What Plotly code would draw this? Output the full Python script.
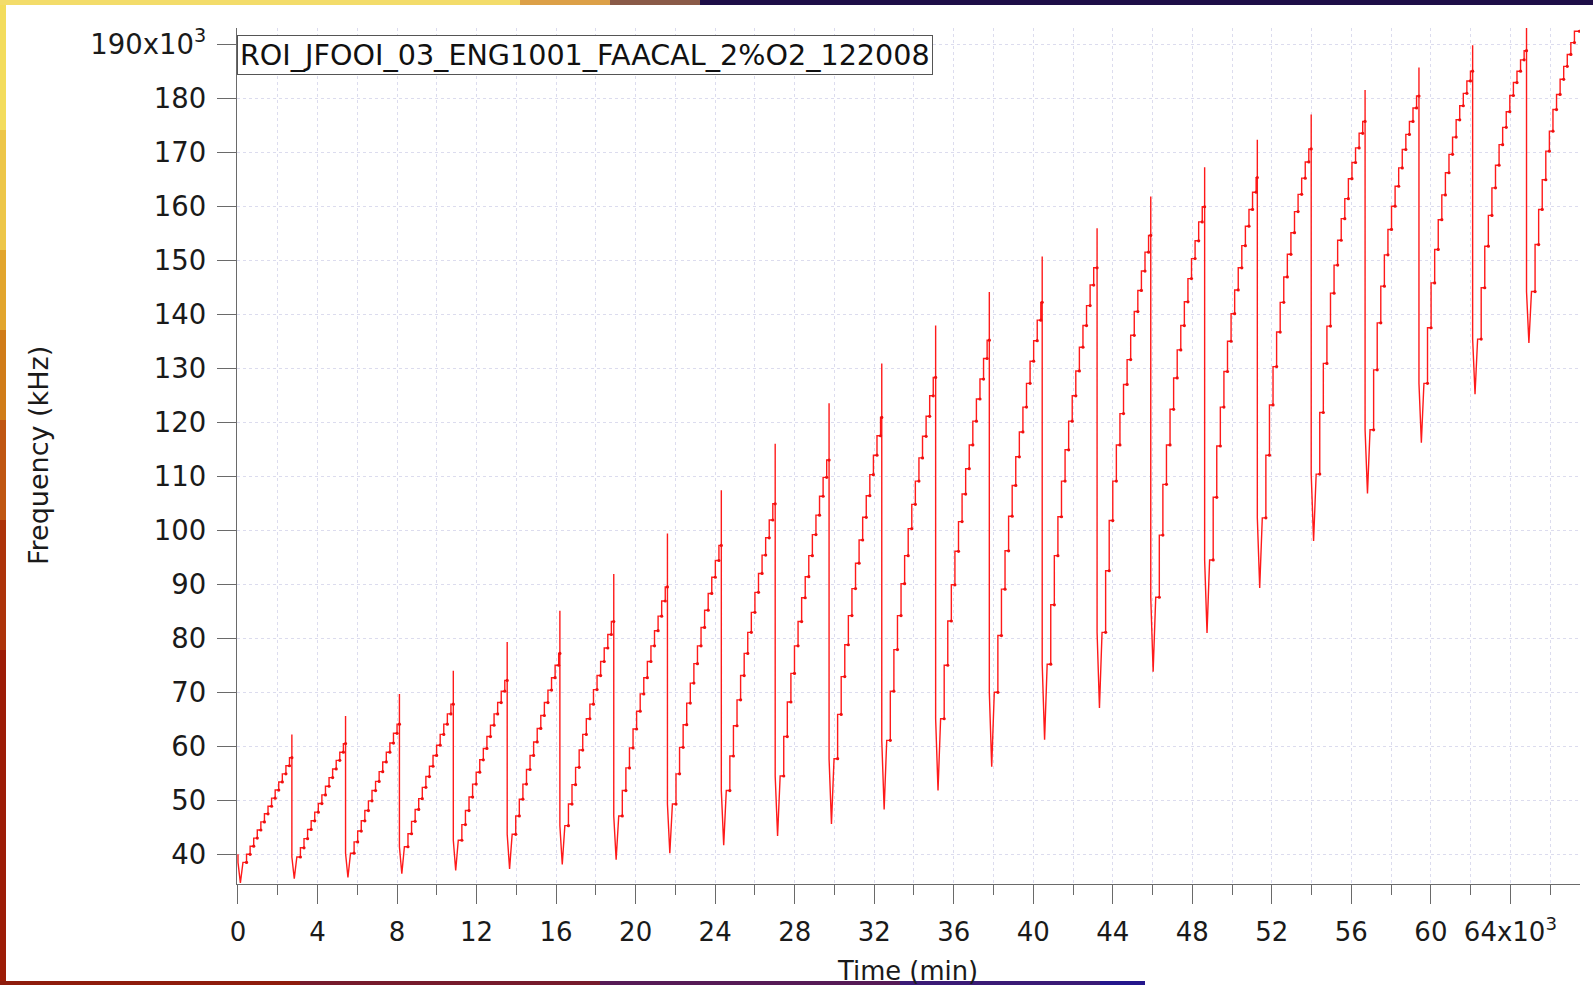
import plotly.graph_objects as go

# ---------------- data ----------------
# time unit: x10^3 (s); frequency: kHz
start_level = 40.0
end_time = 67.47

drop_times = [2.71, 5.41, 8.12, 10.83, 13.54, 16.19, 18.90, 21.60, 24.31, 27.02,
              29.73, 32.38, 35.09, 37.79, 40.45, 43.21, 45.91, 48.62, 51.27, 53.98,
              56.69, 59.40, 62.10, 64.81]
spike_peaks = [62.2, 65.6, 69.7, 74.0, 79.3, 85.1, 91.9, 99.4, 107.4, 116.0,
               123.5, 130.9, 137.9, 144.1, 150.7, 155.9, 161.8, 167.2, 172.3, 177.0,
               181.5, 185.7, 189.8, 193.4]
cycle_minima = [34.7, 35.5, 35.7, 36.4, 37.0, 37.3, 38.1, 39.0, 40.2, 41.7, 43.4, 45.6,
                48.3, 51.8, 56.2, 61.2, 67.1, 73.8, 81.0, 89.3, 98.0, 106.8, 116.2,
                125.2, 134.7]
# offsets (x10^3 s after a reset) of the minimum and of each plateau start
min_offset = 0.12
step_offsets = [0.25, 0.43, 0.61, 0.79, 0.97, 1.15, 1.33, 1.51, 1.69, 1.87, 2.05,
                2.23, 2.41, 2.59]

cycle_levels = [
    [38.5, 40.0, 41.5, 43.0, 44.5, 46.0, 47.5, 48.9, 50.4, 51.9, 53.4, 54.9, 56.4, 57.9],
    [39.5, 41.2, 42.9, 44.6, 46.2, 47.8, 49.4, 51.0, 52.6, 54.2, 55.8, 57.4, 58.9, 60.5],
    [40.2, 42.3, 44.3, 46.2, 48.1, 49.9, 51.8, 53.5, 55.3, 57.1, 58.9, 60.6, 62.4, 64.1],
    [41.4, 43.8, 46.1, 48.3, 50.3, 52.4, 54.4, 56.3, 58.3, 60.2, 62.2, 64.1, 66.0, 67.8],
    [42.6, 45.5, 48.1, 50.6, 53.0, 55.2, 57.5, 59.6, 61.8, 63.9, 66.0, 68.1, 70.2, 72.2],
    [43.7, 47.1, 50.2, 53.0, 55.7, 58.3, 60.8, 63.3, 65.7, 68.1, 70.4, 72.7, 75.0, 77.2],
    [45.3, 49.3, 52.9, 56.1, 59.3, 62.2, 65.1, 67.8, 70.5, 73.1, 75.7, 78.2, 80.7, 83.1],
    [47.1, 51.8, 56.0, 59.7, 63.2, 66.5, 69.7, 72.7, 75.7, 78.6, 81.4, 84.1, 86.9, 89.5],
    [49.3, 54.9, 59.8, 64.0, 68.0, 71.7, 75.3, 78.6, 82.0, 85.2, 88.3, 91.3, 94.4, 97.2],
    [51.8, 58.2, 63.8, 68.6, 73.1, 77.2, 81.1, 84.8, 88.5, 92.0, 95.4, 98.6, 101.9, 104.9],
    [54.5, 61.8, 68.2, 73.5, 78.6, 83.1, 87.5, 91.4, 95.3, 99.2, 102.8, 106.3, 109.8, 113.0],
    [57.7, 65.9, 72.9, 78.8, 84.2, 89.2, 93.9, 98.2, 102.4, 106.4, 110.3, 113.9, 117.5, 120.9],
    [61.1, 70.2, 77.9, 84.2, 90.1, 95.3, 100.3, 104.8, 109.1, 113.4, 117.4, 121.1, 124.9, 128.3],
    [65.1, 75.0, 83.2, 89.9, 96.1, 101.6, 106.7, 111.4, 115.8, 120.2, 124.3, 128.0, 131.8, 135.2],
    [70.0, 80.5, 89.1, 96.2, 102.6, 108.3, 113.6, 118.2, 122.8, 127.2, 131.3, 135.1, 138.9, 142.2],
    [75.2, 86.2, 95.3, 102.5, 109.1, 114.9, 120.2, 124.9, 129.5, 133.9, 137.9, 141.6, 145.4, 148.6],
    [81.1, 92.5, 101.8, 109.1, 115.8, 121.6, 127.0, 131.6, 136.1, 140.5, 144.4, 148.0, 151.5, 154.6],
    [87.6, 99.1, 108.5, 115.8, 122.4, 128.2, 133.4, 137.9, 142.3, 146.6, 150.3, 153.6, 157.1, 159.9],
    [94.5, 106.1, 115.6, 122.8, 129.4, 135.0, 140.1, 144.5, 148.6, 152.7, 156.3, 159.4, 162.6, 165.3],
    [102.3, 113.9, 123.2, 130.3, 136.7, 142.2, 146.9, 151.1, 155.1, 159.0, 162.2, 165.2, 168.2, 170.6],
    [110.4, 121.8, 130.9, 137.8, 143.9, 149.1, 153.7, 157.7, 161.4, 165.1, 168.1, 170.8, 173.5, 175.7],
    [118.6, 129.7, 138.4, 145.2, 151.0, 155.7, 160.0, 163.7, 167.1, 170.5, 173.3, 175.7, 178.2, 180.4],
    [127.2, 137.5, 145.8, 152.0, 157.5, 162.1, 166.2, 169.6, 172.8, 176.0, 178.6, 180.9, 183.2, 185.0],
    [135.4, 144.9, 152.6, 158.3, 163.4, 167.6, 171.4, 174.6, 177.5, 180.5, 182.9, 185.0, 187.1, 188.8],
    [144.2, 152.9, 159.4, 164.9, 170.2, 173.9, 177.9, 180.7, 183.5, 185.9, 188.1, 190.3, 192.4],
]

x_tick_vals = [0, 4, 8, 12, 16, 20, 24, 28, 32, 36, 40, 44, 48, 52, 56, 60, 64]
x_tick_text = ["0", "4", "8", "12", "16", "20", "24", "28", "32", "36", "40", "44",
               "48", "52", "56", "60", "64x10<sup>3</sup>"]
x_minor_vals = [2, 6, 10, 14, 18, 22, 26, 30, 34, 38, 42, 46, 50, 54, 58, 62, 66]
y_tick_vals = [40, 50, 60, 70, 80, 90, 100, 110, 120, 130, 140, 150, 160, 170, 180, 190]
y_tick_text = ["40", "50", "60", "70", "80", "90", "100", "110", "120", "130", "140",
               "150", "160", "170", "180", "190x10<sup>3</sup>"]

label_text = "ROI_JFOOI_03_ENG1001_FAACAL_2%O2_122008"

# ---------------- build the trace path from the read values ----------------
xs, ys = [0.0], [start_level]
plateau_x, plateau_y = [], []
cycle_starts = [0.0] + drop_times
cycle_ends = drop_times + [end_time]
for c, (t0, t1) in enumerate(zip(cycle_starts, cycle_ends)):
    lv = cycle_levels[c]
    if c > 0:
        xs += [t0]
        ys += [spike_peaks[c - 1]]
    xs += [t0, t0 + min_offset, t0 + step_offsets[0]]
    ys += [lv[0], cycle_minima[c], lv[0]]
    for i in range(1, len(lv)):
        ts = t0 + step_offsets[i]
        xs += [ts, ts]
        ys += [lv[i - 1], lv[i]]
        plateau_x.append(ts)
        plateau_y.append(lv[i - 1])
    xs += [t1]
    ys += [lv[-1]]
    plateau_x.append(t1)
    plateau_y.append(lv[-1])

fig = go.Figure()
fig.add_trace(go.Scatter(x=xs, y=ys, mode="lines",
                         line=dict(color="#ff1a1a", width=1.4),
                         showlegend=False, hoverinfo="skip"))
fig.add_trace(go.Scatter(x=plateau_x, y=plateau_y, mode="markers",
                         marker=dict(color="#f01010", size=3.2, line=dict(width=0)),
                         showlegend=False, hoverinfo="skip"))

# ---------------- layout ----------------
W, H = 1593, 985
ML, MR, MT, MB = 237, 13, 28, 101
PW, PH = W - ML - MR, H - MT - MB


def px(xp):
    return (xp - ML) / PW


def py(yp):
    return (H - MB - yp) / PH


font_family = "DejaVu Sans"
axis_col = "#6a6a6a"
grid_col = "#dcdcee"

fig.update_layout(
    width=W, height=H,
    margin=dict(l=ML, r=MR, t=MT, b=MB, pad=0),
    paper_bgcolor="white", plot_bgcolor="white",
    font=dict(family=font_family, color="#1a1a1a"),
)
fig.update_xaxes(
    range=[-0.05, 67.5], showline=True, linecolor=axis_col, linewidth=1.3,
    ticks="outside", ticklen=19, tickwidth=1.3, tickcolor=axis_col,
    tickmode="array", tickvals=x_tick_vals, ticktext=x_tick_text,
    tickfont=dict(size=26, family=font_family, color="#1a1a1a"),
    ticklabelstandoff=6,
    showgrid=True, gridcolor=grid_col, griddash="dot", gridwidth=1,
    zeroline=False,
    minor=dict(tickmode="array", tickvals=x_minor_vals, ticks="outside", ticklen=10,
               tickwidth=1.3, tickcolor=axis_col, showgrid=True,
               gridcolor=grid_col, griddash="dot", gridwidth=1),
)
fig.update_yaxes(
    range=[34.5, 193.0], showline=True, linecolor=axis_col, linewidth=1.3,
    ticks="outside", ticklen=19, tickwidth=1.3, tickcolor=axis_col,
    tickmode="array", tickvals=y_tick_vals, ticktext=y_tick_text,
    tickfont=dict(size=27.5, family=font_family, color="#1a1a1a"),
    ticklabelstandoff=5,
    showgrid=True, gridcolor=grid_col, griddash="dot", gridwidth=1,
    zeroline=False,
)

annotations = [
    dict(text=label_text, xref="paper", yref="paper", x=0, y=1, xanchor="left",
         yanchor="top", xshift=0, yshift=-7, showarrow=False,
         font=dict(size=28.6, family=font_family, color="#111"),
         bgcolor="white", bordercolor="#555", borderwidth=1, borderpad=2),
    dict(text="Frequency (kHz)", xref="paper", yref="paper", x=px(38), y=0.5,
         xanchor="center", yanchor="middle", textangle=-90, showarrow=False,
         font=dict(size=27, family=font_family, color="#1a1a1a")),
    dict(text="Time (min)", xref="paper", yref="paper", x=px(907), y=py(971),
         xanchor="center", yanchor="middle", showarrow=False,
         font=dict(size=25.8, family=font_family, color="#1a1a1a")),
]
fig.update_layout(annotations=annotations)

# decorative slide border (coloured strips around the picture)
shapes = []
left_bands = [(0, 130, "#f3dc5c"), (130, 250, "#edc648"), (250, 330, "#e2a52c"),
              (330, 420, "#d07c18"), (420, 520, "#bf5612"), (520, 650, "#ad330a"),
              (650, 985, "#9c1c06")]
for y0, y1, col in left_bands:
    shapes.append(dict(type="rect", xref="paper", yref="paper", x0=px(0), x1=px(6),
                       y0=py(y1), y1=py(y0), fillcolor=col, line=dict(width=0),
                       layer="above"))
top_bands = [(0, 520, "#f3dc6a"), (520, 610, "#dca048"), (610, 700, "#8a5a48"),
             (700, 1593, "#1e0e48")]
for x0, x1, col in top_bands:
    shapes.append(dict(type="rect", xref="paper", yref="paper", x0=px(x0), x1=px(x1),
                       y0=py(5), y1=py(0), fillcolor=col, line=dict(width=0),
                       layer="above"))
bottom_bands = [(0, 300, "#8e1c0c"), (300, 600, "#761a2c"), (600, 900, "#561a56"),
                (900, 1100, "#3a1a76"), (1100, 1145, "#24168c")]
for x0, x1, col in bottom_bands:
    shapes.append(dict(type="rect", xref="paper", yref="paper", x0=px(x0), x1=px(x1),
                       y0=py(985), y1=py(981), fillcolor=col, line=dict(width=0),
                       layer="above"))
fig.update_layout(shapes=shapes)

fig.write_html("out.html")
